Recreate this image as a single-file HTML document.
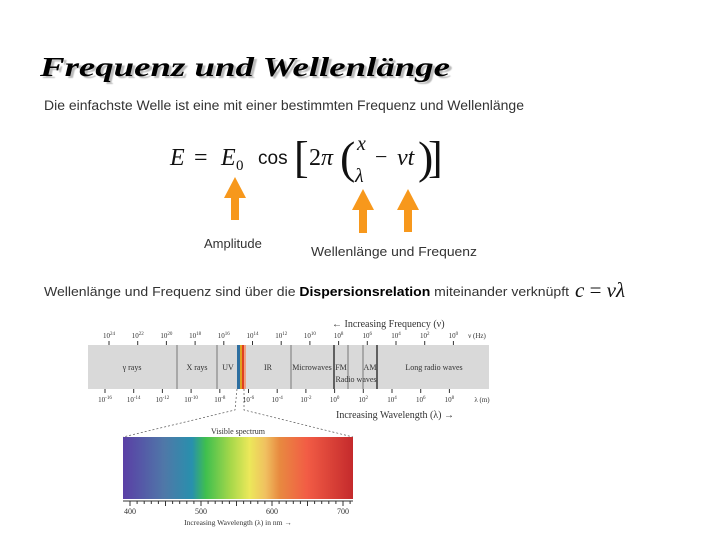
<!DOCTYPE html>
<html><head><meta charset="utf-8"><style>
body{margin:0;background:#fff}
svg text{font-family:"Liberation Sans",sans-serif}
svg text.s,svg .s text{font-family:"Liberation Serif",serif}
</style></head><body>
<svg width="720" height="540" xmlns="http://www.w3.org/2000/svg">
<text class="s" x="40" y="76" font-style="italic" font-weight="bold" font-size="27" fill="#000" style="text-shadow:2px 2px 1px #bbb" textLength="410" lengthAdjust="spacingAndGlyphs">Frequenz und Wellenlänge</text>
<text x="44" y="110" font-size="13.5" fill="#333" textLength="480" lengthAdjust="spacingAndGlyphs">Die einfachste Welle ist eine mit einer bestimmten Frequenz und Wellenlänge</text>
<g fill="#111">
<text class="s" x="170" y="165" font-size="24" font-style="italic">E</text>
<text class="s" x="194" y="165" font-size="24">=</text>
<text class="s" x="221" y="165" font-size="24" font-style="italic">E</text>
<text class="s" x="236" y="170" font-size="15">0</text>
<text x="258" y="164" font-size="19">cos</text>
<text class="s" x="294" y="172" font-size="44">[</text>
<text class="s" x="309" y="165" font-size="24">2<tspan font-style="italic">π</tspan></text>
<text class="s" x="340" y="173" font-size="46">(</text>
<text class="s" x="357" y="150" font-size="20" font-style="italic">x</text>
<text class="s" x="355" y="182" font-size="20" font-style="italic">λ</text>
<text class="s" x="375" y="164" font-size="22">−</text>
<text class="s" x="397" y="165" font-size="24" font-style="italic">νt</text>
<text class="s" x="418" y="173" font-size="46">)</text>
<text class="s" x="428" y="172" font-size="44">]</text>
</g>
<g fill="#f7981c">
<path d="M235 177 L246 198 L239 198 L239 220 L231 220 L231 198 L224 198 Z"/>
<path d="M363 189 L374 210 L367 210 L367 233 L359 233 L359 210 L352 210 Z"/>
<path d="M408 189 L419 210 L412 210 L412 232 L404 232 L404 210 L397 210 Z"/>
</g>
<text x="204" y="248" font-size="13" fill="#333">Amplitude</text>
<text x="311" y="256" font-size="13" fill="#333" textLength="166" lengthAdjust="spacingAndGlyphs">Wellenlänge und Frequenz</text>
<text x="44" y="296" font-size="13" fill="#333" textLength="525" lengthAdjust="spacingAndGlyphs">Wellenlänge und Frequenz sind über die <tspan font-weight="bold" fill="#000">Dispersionsrelation</tspan> miteinander verknüpft</text>
<text class="s" x="575" y="297" font-size="21" font-style="italic" fill="#111">c <tspan font-style="normal">=</tspan> νλ</text>

<g>
<text class="s" x="332" y="327" font-size="10" fill="#333">←  Increasing Frequency (ν)</text>
<rect x="88" y="345" width="401" height="44" fill="#d9d9d9"/>
<g stroke="#777" stroke-width="1">
<line x1="177" y1="345" x2="177" y2="389"/><line x1="217" y1="345" x2="217" y2="389"/>
<line x1="291" y1="345" x2="291" y2="389"/>
<line x1="348" y1="345" x2="348" y2="389"/><line x1="363" y1="345" x2="363" y2="389"/>
</g>
<g stroke="#111" stroke-width="1.2"><line x1="334" y1="345" x2="334" y2="389"/><line x1="377" y1="345" x2="377" y2="389"/></g>
<rect x="237" y="345" width="3" height="44" fill="#2e6fa0"/><rect x="240" y="345" width="2" height="44" fill="#e0a020"/><rect x="242" y="345" width="2" height="44" fill="#e04020"/><rect x="244" y="345" width="2" height="44" fill="#f0a080"/>
<g class="s" font-size="8" fill="#333" text-anchor="middle">
<text x="132" y="370">γ rays</text><text x="197" y="370">X rays</text><text x="228" y="370">UV</text><text x="268" y="370">IR</text><text x="312" y="370">Microwaves</text><text x="341" y="370">FM</text><text x="370" y="370">AM</text><text x="434" y="370">Long radio waves</text><text x="356" y="382">Radio waves</text>
</g>
<g id="ticks"></g>
<text class="s" x="336" y="418" font-size="10" fill="#333">Increasing Wavelength (λ) →</text>
<g stroke="#555" stroke-dasharray="2,2" stroke-width="0.7" fill="none">
<path d="M237 389 L235 410 L123 437"/><path d="M244 389 L244 410 L353 437"/>
</g>
<defs><linearGradient id="vis" x1="0" x2="1">
<stop offset="0" stop-color="#5a3fa6"/><stop offset="0.18" stop-color="#4f78a8"/><stop offset="0.3" stop-color="#2890ad"/><stop offset="0.36" stop-color="#3fbf4e"/><stop offset="0.47" stop-color="#a8d84a"/><stop offset="0.55" stop-color="#ece85a"/><stop offset="0.62" stop-color="#f0c060"/><stop offset="0.68" stop-color="#e88a40"/><stop offset="0.8" stop-color="#f25c45"/><stop offset="1" stop-color="#c42a2c"/>
</linearGradient></defs>
<text class="s" x="238" y="434" font-size="8" fill="#333" text-anchor="middle">Visible spectrum</text>
<rect x="123" y="437" width="230" height="62" fill="url(#vis)"/>
<line x1="123" y1="501" x2="353" y2="501" stroke="#333"/>
<g id="vticks"></g>
<g class="s" font-size="8" fill="#333" text-anchor="middle"><text x="130" y="514">400</text><text x="201" y="514">500</text><text x="272" y="514">600</text><text x="343" y="514">700</text></g>
<text class="s" x="238" y="525" font-size="7.5" fill="#333" text-anchor="middle">Increasing Wavelength (λ) in nm →</text>
</g>
</svg>
<script>
const freqExp=[24,22,20,18,16,14,12,10,8,6,4,2,0];
const waveExp=[-16,-14,-12,-10,-8,-6,-4,-2,0,2,4,6,8];
const ns="http://www.w3.org/2000/svg";
const g=document.getElementById('ticks');
function fx(i){return 109+i*28.7;}
function wx(i){return 105+i*28.7;}
function add(tag,attrs,txt){const e=document.createElementNS(ns,tag);for(const k in attrs)e.setAttribute(k,attrs[k]);if(txt!==undefined)e.innerHTML=txt;g.appendChild(e);return e;}
freqExp.forEach((v,i)=>{const x=fx(i);
const t=add('line',{x1:x,y1:341,x2:x,y2:345,stroke:'#333'});


const l=add('text',{x:x,y:338,'font-size':7,'text-anchor':'middle',fill:'#333','class':'s'},'10<tspan dy="-3" font-size="5">'+v+'</tspan>');

});
waveExp.forEach((v,i)=>{const x=wx(i);
const t=add('line',{x1:x,y1:389,x2:x,y2:393,stroke:'#333'});


const l=add('text',{x:x,y:402,'font-size':7,'text-anchor':'middle',fill:'#333','class':'s'},'10<tspan dy="-3" font-size="5">'+v+'</tspan>');

});
const a=add('text',{x:477,y:338,'font-size':7,'text-anchor':'middle',fill:'#333','class':'s'},'ν (Hz)');


const b=add('text',{x:482,y:402,'font-size':7,'text-anchor':'middle',fill:'#333','class':'s'},'λ (m)');


const vg=document.getElementById('vticks');
for(let n=400;n<=720;n+=10){const x=130+(n-400)*0.71;if(x>353)break;const e=document.createElementNS(ns,'line');
e.setAttribute('x1',x);e.setAttribute('x2',x);e.setAttribute('y1',501);e.setAttribute('y2',n%50===0?506:504);e.setAttribute('stroke','#333');


vg.appendChild(e);}
</script>
</body></html>
